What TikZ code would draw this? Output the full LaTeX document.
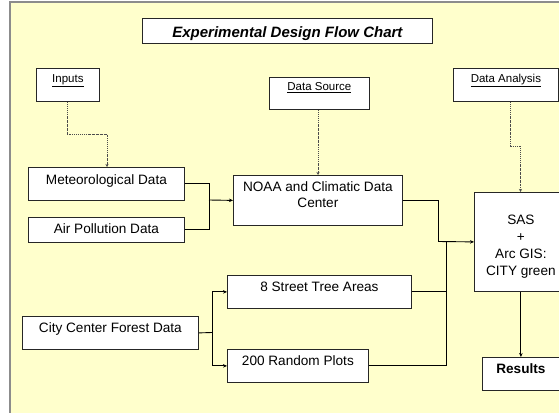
\documentclass[tikz,border=0pt]{standalone}
\usepackage{fontspec}
\setmainfont{Liberation Sans}
\usetikzlibrary{arrows.meta}
\definecolor{panel}{HTML}{FFFFCC}
\definecolor{panelborder}{HTML}{8C8C8C}
\tikzset{
  box/.style={draw=black!85, fill=white, line width=0.8pt, inner sep=0pt, anchor=north west, font=\fontsize{13.6}{16}\selectfont},
  small/.style={font=\fontsize{11.5}{13}\selectfont},
  flow/.style={draw=black, line width=0.9pt},
  flowarr/.style={flow, -{Stealth[length=4pt,width=3.5pt]}},
  dotc/.style={draw=black!70, line width=0.6pt, dash pattern=on 1.5pt off 1pt on 0.4pt off 1pt, -{Stealth[length=3pt,width=3pt]}}
}
\begin{document}
\begin{tikzpicture}[x=1pt,y=-1pt]
\useasboundingbox (0,0) rectangle (559,412);
\fill[white] (0,0) rectangle (559,412);
\path[fill=panel, draw=panelborder, line width=1.2pt] (10,2) rectangle (575,425);

\node[box, minimum width=290pt, text height=19pt, text depth=6pt, font=\fontsize{15}{17}\selectfont\bfseries\itshape] (title) at (142,18) {Experimental Design Flow Chart};

\node[box, small, minimum width=63pt, text height=14.5pt, text depth=18.5pt] (inputs) at (36,68) {\underline{Inputs}};
\node[box, small, minimum width=100pt, text height=13pt, text depth=19pt] (source) at (269,77) {\underline{Data Source}};
\node[box, small, minimum width=105pt, text height=14.5pt, text depth=18.5pt] (analysis) at (453,68) {\underline{Data Analysis}};

\node[box, minimum width=156pt, text height=17pt, text depth=16pt] (met) at (28,167) {Meteorological Data};
\node[box, minimum width=156pt, text height=16.5pt, text depth=8.5pt] (air) at (28,217) {Air Pollution Data};
\node[box, minimum width=169pt, text height=16.5pt, text depth=33.5pt] (noaa) at (233,175) {\begin{tabular}[t]{@{}c@{}}NOAA and Climatic Data\\Center\end{tabular}};

\node[box, minimum width=184pt, text height=16pt, text depth=17pt] (street) at (227,275) {8 Street Tree Areas};
\node[box, minimum width=141pt, text height=16pt, text depth=17pt] (random) at (227,349) {200 Random Plots};
\node[box, minimum width=176pt, text height=16.5pt, text depth=16.5pt] (city) at (22,316) {City Center Forest Data};

\node[box, minimum width=93pt, text height=32.5pt, text depth=66.5pt, font=\fontsize{13.6}{16.7}\selectfont] (sas) at (474,192) {\begin{tabular}[t]{@{}c@{}}SAS\\+\\Arc GIS:\\CITY green\end{tabular}};
\node[box, minimum width=77pt, text height=16pt, text depth=17pt, font=\fontsize{13.6}{16}\selectfont\bfseries] (results) at (482,357) {Results};

% dotted connectors
\coordinate (d1) at (67,134);
\coordinate (d2) at (107,134);
\draw[dotc] (inputs.south -| d1) -- (d1) -- (d2) -- (d2 |- met.north);
\draw[dotc] (source.south -| 318,0) -- (318,0 |- noaa.north);
\coordinate (d3) at (510,146);
\coordinate (d4) at (520.5,146);
\draw[dotc] (analysis.south -| d3) -- (d3) -- (d4) -- (d4 |- sas.north);

% solid connectors
\coordinate (j1) at (209,200);
\draw[flow] (met.east) -| (j1);
\draw[flow] (air.east) -| (j1);
\draw[flowarr] (j1) -- (noaa.west);

\coordinate (j2) at (438,241.5);
\draw[flow] (noaa.east) -| (j2);
\draw[flowarr] (j2) -- (sas.west);
\coordinate (j3) at (446,241.5);
\draw[flow] (street.east) -| (j3);
\draw[flow] (random.east) -| (j3);

\coordinate (j4) at (212,332.5);
\draw[flow] (city.east) -- (j4);
\draw[flowarr] (j4) |- (street.west);
\draw[flowarr] (j4) |- (random.west);

\draw[flowarr] (sas.south) -- (results.north);
\end{tikzpicture}
\end{document}
